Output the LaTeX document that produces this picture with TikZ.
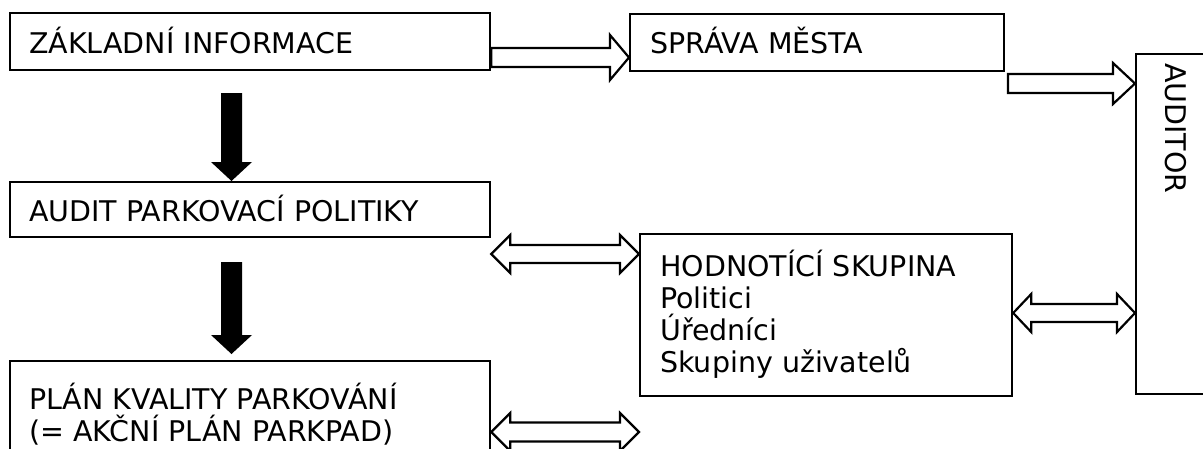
\documentclass[tikz,border=0pt]{standalone}
\usepackage{fontspec}
\setmainfont{DejaVu Sans}
\usepackage{tikz}
\usetikzlibrary{positioning, calc}

\newcommand{\boxfont}{\fontsize{28.5}{32}\selectfont}

% hollow block arrow to the right: start, tip, shaft half width, head half width, head length
\newcommand{\hollowright}[5]{%
  \draw[blockline] ($(#1)+(0,-#3)$) -- ($(#2)+(-#5,-#3)$) -- ($(#2)+(-#5,-#4)$)
    -- (#2) -- ($(#2)+(-#5,#4)$) -- ($(#2)+(-#5,#3)$) -- ($(#1)+(0,#3)$) -- cycle;}
% hollow block arrow with two heads
\newcommand{\hollowboth}[5]{%
  \draw[blockline] (#1) -- ($(#1)+(#5,-#4)$) -- ($(#1)+(#5,-#3)$)
    -- ($(#2)+(-#5,-#3)$) -- ($(#2)+(-#5,-#4)$) -- (#2) -- ($(#2)+(-#5,#4)$)
    -- ($(#2)+(-#5,#3)$) -- ($(#1)+(#5,#3)$) -- ($(#1)+(#5,#4)$) -- cycle;}
% solid block arrow pointing down
\newcommand{\soliddown}[5]{%
  \fill ($(#1)+(-#3,0)$) -- ($(#2)+(-#3,-#5)$) -- ($(#2)+(-#4,-#5)$) -- (#2)
    -- ($(#2)+(#4,-#5)$) -- ($(#2)+(#3,-#5)$) -- ($(#1)+(#3,0)$) -- cycle;}

\begin{document}
\begin{tikzpicture}[
        x=1pt, y=-1pt,
        box/.style={rectangle, draw, line width=2.2pt, anchor=north west,
                    inner sep=0pt},
        txt/.style={anchor=base west, inner sep=0pt, font=\boxfont},
        blockline/.style={draw, line width=2.2pt, fill=white, line join=miter}
    ]
    \useasboundingbox (0,0) rectangle (1203,448);
    \clip (0,0) rectangle (1203,448);

    %% LEFT COLUMN
    \node[box, minimum width=480, minimum height=57] (zakl) at (9,12) {};
    \node[txt] (zakltxt) at ([shift={(20,41)}]zakl.north west)
          {ZÁKLADNÍ INFORMACE};

    \node[box, minimum width=480, minimum height=55] (audit) at (9,181) {};
    \node[txt] (audittxt) at ([shift={(20,40)}]audit.north west)
          {AUDIT PARKOVACÍ POLITIKY};

    \node[box, minimum width=480, minimum height=120] (plan) at (9,360) {};
    % base of a two-line node is its last line
    \node[txt, align=left] (plantxt) at ([shift={(20,81)}]plan.north west)
          {PLÁN KVALITY PARKOVÁNÍ\\(= AKČNÍ PLÁN PARKPAD)};

    %% MIDDLE COLUMN
    \node[box, minimum width=374, minimum height=57] (sprava) at (629,13) {};
    \node[txt] (spravatxt) at ([shift={(21,40)}]sprava.north west)
          {SPRÁVA MĚSTA};

    \node[box, minimum width=372, minimum height=162] (hodn) at (639,233) {};
    \node[txt, align=left] (hodntxt) at ([shift={(21,139)}]hodn.north west)
          {HODNOTÍCÍ SKUPINA\\Politici\\Úředníci\\Skupiny uživatelů};

    %% AUDITOR
    \node[box, minimum width=120, minimum height=340] (auditor) at (1135,53) {};
    \node[txt, rotate=-90] (auditortxt) at ([shift={(30,10)}]auditor.north west)
          {AUDITOR};

    %% ARROWS
    \coordinate (dn1s) at (231.5,93);
    \coordinate (dn1t) at (dn1s |- audit.north);
    \soliddown{dn1s}{dn1t}{10.5}{20.5}{19}
    \coordinate (dn2s) at (231.5,262);
    \coordinate (dn2t) at (231.5,354);
    \soliddown{dn2s}{dn2t}{10.5}{20.5}{19}

    \coordinate (a1s) at (zakl.east |- 0,57.5);
    \coordinate (a1t) at (sprava.west |- 0,57.5);
    \hollowright{a1s}{a1t}{9.5}{22.5}{19}
    \coordinate (a2s) at (1008,83.5);
    \coordinate (a2t) at (auditor.west |- 0,83.5);
    \hollowright{a2s}{a2t}{9.5}{20.5}{22}

    \coordinate (d1s) at (audit.east |- 0,254);
    \coordinate (d1t) at (hodn.west |- 0,254);
    \hollowboth{d1s}{d1t}{9}{19}{19}
    \coordinate (d2s) at (plan.east |- 0,432);
    \coordinate (d2t) at (hodn.west |- 0,432);
    \hollowboth{d2s}{d2t}{9.5}{19}{19}
    \coordinate (d3s) at (hodn.east |- 0,313);
    \coordinate (d3t) at (auditor.west |- 0,313);
    \hollowboth{d3s}{d3t}{9}{19}{18}

\end{tikzpicture}
\end{document}
